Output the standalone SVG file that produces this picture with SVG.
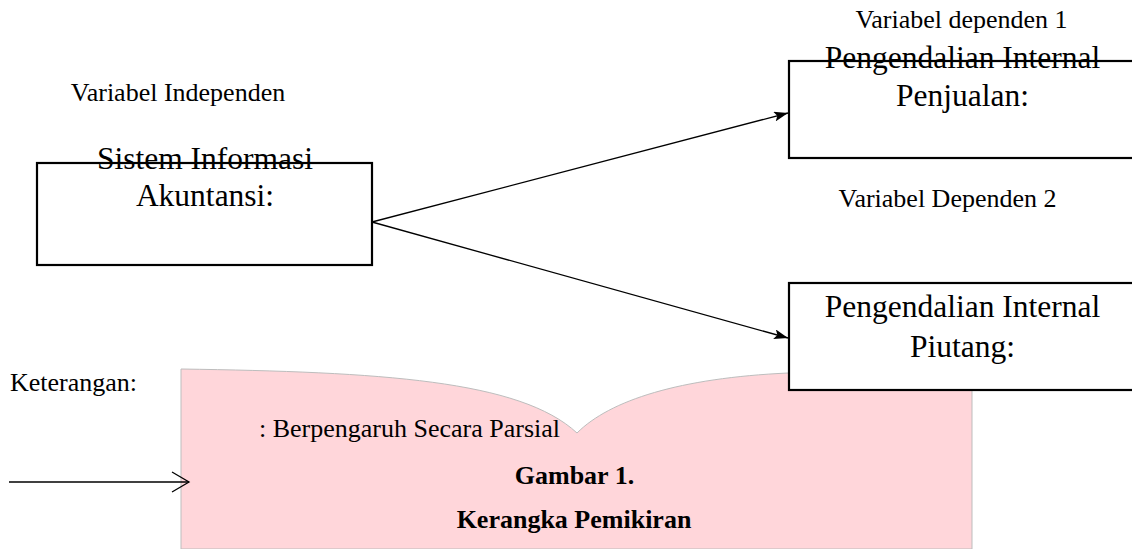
<svg xmlns="http://www.w3.org/2000/svg" width="1132" height="549" viewBox="0 0 1132 549">
  <defs>
    <marker id="arrowFilled" viewBox="0 0 14 10" refX="14" refY="5" markerWidth="14" markerHeight="10" markerUnits="userSpaceOnUse" orient="auto">
      <path d="M0,0 L14,5 L0,10 L3,5 Z" fill="#000"/>
    </marker>
  </defs>
  <style>
    .cap { font-family: "Liberation Serif", "Times New Roman", serif; font-size: 26px; fill: #000; }
    .capb { font-family: "Liberation Serif", "Times New Roman", serif; font-size: 26px; font-weight: bold; fill: #000; }
    .box { fill: #fff; stroke: #000; stroke-width: 2.2; }
    .boxtxt { font-family: "Liberation Serif", "Times New Roman", serif; font-size: 31.5px; fill: #000; text-anchor: middle; }
    .conn { stroke: #000; stroke-width: 1.3; fill: none; }
  </style>
  <rect x="0" y="0" width="1132" height="549" fill="#fff"/>

  <g id="background-shape">
    <path d="M181,369 C380,372 520,380 577,433 C610,400 680,378 788,373 L972,373 L972,549 L181,549 Z" fill="#FFD6DA" stroke="#bdbdbd" stroke-width="1"/>
  </g>

  <g id="labels">
    <text class="cap" x="178" y="101" text-anchor="middle">Variabel Independen</text>
    <text class="cap" x="961.5" y="28" text-anchor="middle">Variabel dependen 1</text>
    <text class="cap" x="947.5" y="207" text-anchor="middle">Variabel Dependen 2</text>
  </g>

  <g id="connectors">
    <line class="conn" x1="372" y1="222" x2="788" y2="113" marker-end="url(#arrowFilled)"/>
    <line class="conn" x1="372" y1="222" x2="788" y2="338" marker-end="url(#arrowFilled)"/>
  </g>

  <g id="node-sia">
    <rect class="box" x="37" y="163" width="335" height="102"/>
    <text class="boxtxt" x="205" y="169">Sistem Informasi</text>
    <text class="boxtxt" x="205" y="206">Akuntansi:</text>
  </g>

  <g id="node-penjualan">
    <rect class="box" x="789" y="61" width="346" height="97"/>
    <text class="boxtxt" x="962.5" y="68">Pengendalian Internal</text>
    <text class="boxtxt" x="962.5" y="106">Penjualan:</text>
  </g>

  <g id="node-piutang">
    <rect class="box" x="789" y="283" width="346" height="107"/>
    <text class="boxtxt" x="962.5" y="317">Pengendalian Internal</text>
    <text class="boxtxt" x="962.5" y="357">Piutang:</text>
  </g>

  <g id="legend">
    <text class="cap" x="10" y="391">Keterangan:</text>
    <line class="conn" x1="9" y1="482" x2="189" y2="482"/>
    <polyline class="conn" points="172,472 189,482 172,492"/>
    <text class="cap" x="259" y="437">: Berpengaruh Secara Parsial</text>
  </g>

  <g id="caption">
    <text class="capb" x="574.5" y="484" text-anchor="middle">Gambar 1.</text>
    <text class="capb" x="574" y="528" text-anchor="middle">Kerangka Pemikiran</text>
  </g>
</svg>
